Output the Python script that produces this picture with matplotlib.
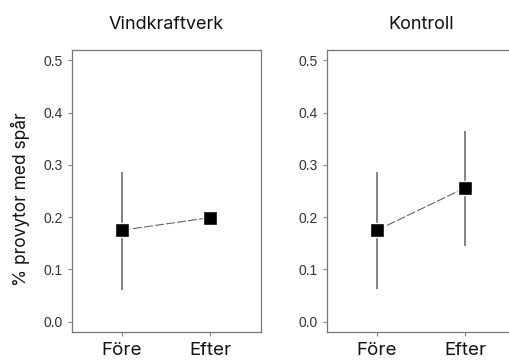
import matplotlib.pyplot as plt

periods = ['Före', 'Efter']
titles = ['Vindkraftverk', 'Kontroll']

# mean share of plots with tracks, with lower/upper interval limits
vind_mean = [0.175, 0.199]
vind_low = [0.061, 0.199]
vind_high = [0.287, 0.199]

kontroll_mean = [0.175, 0.256]
kontroll_low = [0.062, 0.144]
kontroll_high = [0.287, 0.364]

fig = plt.figure(figsize=(5.1, 3.61), dpi=100)
ax1 = fig.add_axes([72 / 510, 1 - 332 / 361, 189 / 510, 282 / 361])
ax2 = fig.add_axes([327 / 510, 1 - 332 / 361, 189 / 510, 282 / 361])

data = [(vind_mean, vind_low, vind_high), (kontroll_mean, kontroll_low, kontroll_high)]
x = [1, 2]
for ax, title, (m, lo, hi) in zip([ax1, ax2], titles, data):
    yerr = [[mi - l for mi, l in zip(m, lo)], [h - mi for mi, h in zip(m, hi)]]
    ax.errorbar(x, m, yerr=yerr, fmt='none', ecolor='#7a7a7a', elinewidth=1.3, capsize=0, zorder=1)
    ax.plot(x, m, color='#666666', lw=0.8, ls=(0, (8, 2)), zorder=2)
    ax.plot(x, m, 's', color='black', ms=9.5, markeredgecolor='white', markeredgewidth=1.0, zorder=3)
    ax.set_xlim(0.43, 2.58)
    ax.set_ylim(-0.02, 0.52)
    ax.set_xticks(x)
    ax.set_xticklabels(periods, fontsize=13.5, family='Inter', color='#111111')
    ax.set_yticks([0.0, 0.1, 0.2, 0.3, 0.4, 0.5])
    ax.set_yticklabels(['0.0', '0.1', '0.2', '0.3', '0.4', '0.5'], fontsize=10,
                       family='Liberation Sans', color='#333333')
    ax.tick_params(length=3, color='#888888', width=0.8)
    ax.tick_params(axis='x', pad=4)
    for s in ax.spines.values():
        s.set_color('#777777')
        s.set_linewidth(0.9)
    ax.set_title(title, fontsize=13, family='Inter', pad=15, color='#111111')

ax1.set_ylabel('% provytor med spår', fontsize=12.5, family='Inter', color='#111111')
ax1.yaxis.set_label_coords(-0.22, 0.47)

fig.savefig('out.png', dpi=100)
